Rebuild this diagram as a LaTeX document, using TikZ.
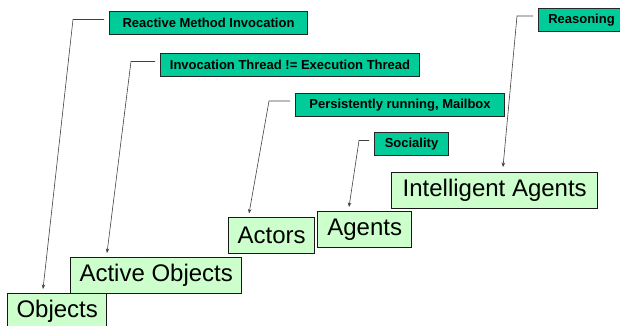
\documentclass[tikz,border=0pt]{standalone}
\usepackage{fontspec}
\setmainfont{Liberation Sans}
\usetikzlibrary{arrows.meta}

\definecolor{tealbox}{RGB}{0,204,153}
\definecolor{greenbox}{RGB}{204,255,204}

\begin{document}
\begin{tikzpicture}[x=1pt,y=-1pt,
	note/.style={draw=black!85,line width=1pt,fill=tealbox,anchor=north west,inner sep=0pt,
		minimum height=23pt,font=\fontsize{13}{15}\selectfont\bfseries},
	level/.style={draw=black!90,line width=1.4pt,fill=greenbox,anchor=north west,inner sep=0pt,
		minimum height=36pt,font=\fontsize{24}{28}\selectfont},
	leader/.style={draw=black!75,line width=0.6pt,-{Stealth[length=4.5pt,width=3.5pt]}}]
	\useasboundingbox (0,0) rectangle (620,326);
	
	% the steps
	\node (obj) [level,minimum width=99pt] at (7,293) {Objects};
	\node (aob) [level,minimum width=171pt] at (70,257) {Active Objects};
	\node (act) [level,minimum width=86pt] at (228,217) {Actors};
	\node (agt) [level,minimum width=94pt] at (317,211) {Agents};
	\node (ia) [level,minimum width=206pt] at (391,172) {Intelligent Agents};
	
	% what each step adds
	\node (rmi) [note,minimum width=198pt] at (109,11) {Reactive Method Invocation};
	\node (itet) [note,minimum width=259pt] at (160,53) {Invocation Thread != Execution Thread};
	\node (prm) [note,minimum width=209pt] at (295,93) {Persistently running, Mailbox};
	\node (soc) [note,minimum width=74pt] at (374,132) {Sociality};
	\node (rea) [note,minimum width=86pt] at (538,8) {Reasoning};
	
	\coordinate (c1) at (73,19.5);
	\coordinate (c2) at (131,61.5);
	\coordinate (c3) at (269,101);
	\coordinate (c4) at (359,140.5);
	\coordinate (c5) at (517,16);
	
	\coordinate (t1) at (43,289);
	\coordinate (t2) at (107,253);
	\coordinate (t3) at (249,213.5);
	\coordinate (t4) at (349,207);
	\coordinate (t5) at (503,167);
	
	\foreach \a/\c/\t in {rmi/c1/t1,itet/c2/t2,prm/c3/t3,soc/c4/t4,rea/c5/t5}
	\draw [leader] ([xshift=-5pt]\c -| \a.west) -- (\c) -- (\t);
	
\end{tikzpicture}
\end{document}
